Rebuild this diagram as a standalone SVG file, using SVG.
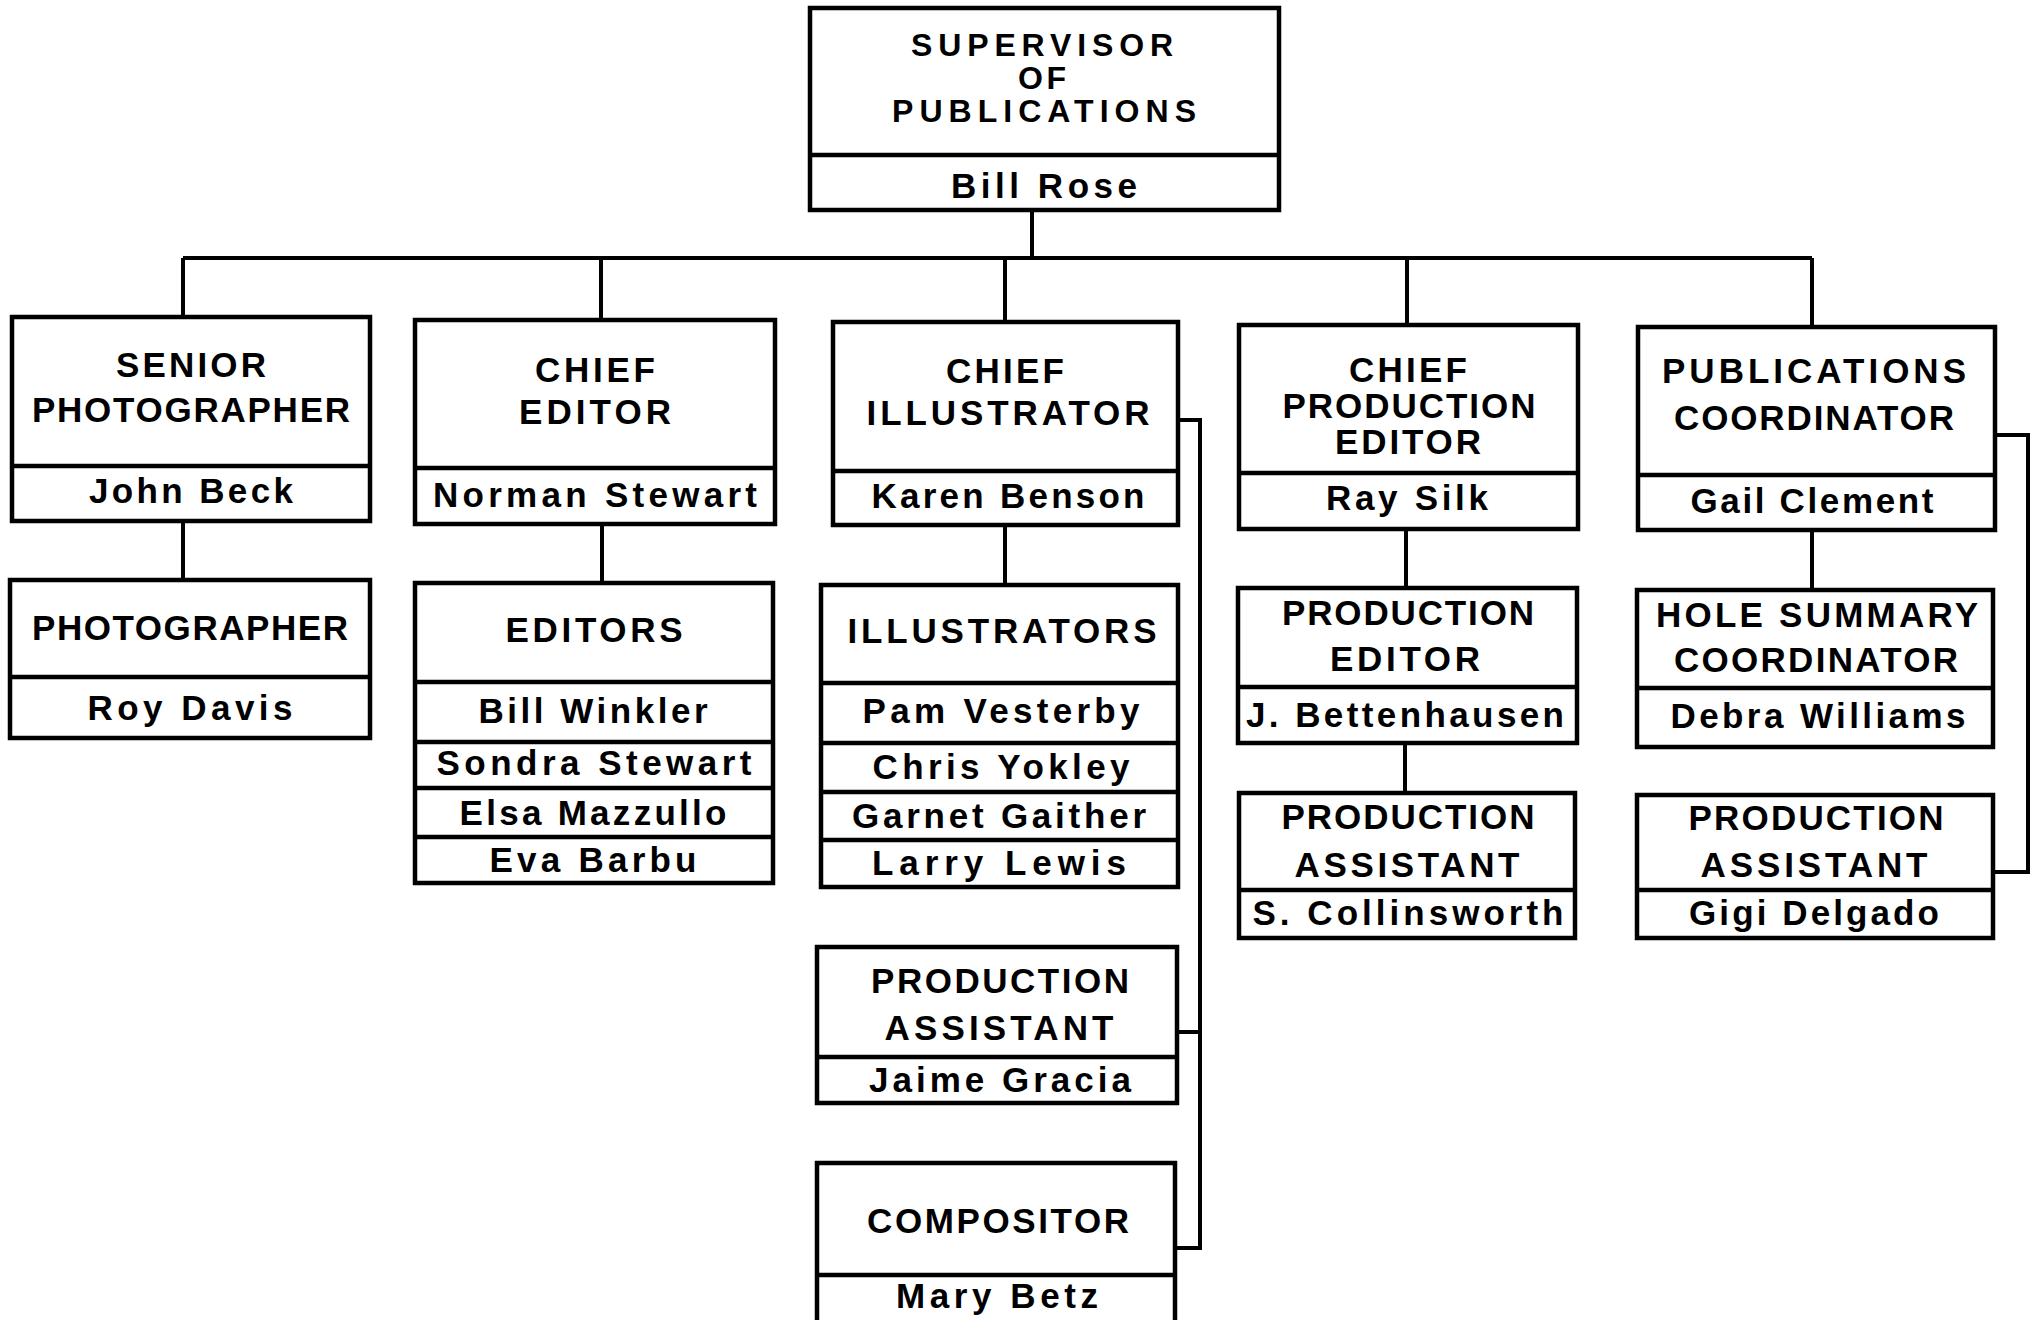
<svg xmlns="http://www.w3.org/2000/svg" width="2036" height="1320" viewBox="0 0 2036 1320">
<style>
.bg{fill:#fff}
.box{fill:#fff;stroke:#000;stroke-width:4.5}
.dv{stroke:#000;stroke-width:4.5;fill:none}
.cn{stroke:#000;stroke-width:4;fill:none}
.t{font-family:"Liberation Sans",Arial,Helvetica,sans-serif;font-weight:bold;font-size:35px;text-anchor:middle;fill:#000}
.s{font-size:32px}
</style>
<rect class="bg" x="0" y="0" width="2036" height="1320"/>
<g id="connectors">
<path class="cn" d="M1032 210 V258"/>
<path class="cn" d="M183 258 H1812"/>
<path class="cn" d="M183 258 V317"/>
<path class="cn" d="M601 258 V320"/>
<path class="cn" d="M1005 258 V322"/>
<path class="cn" d="M1407 258 V325"/>
<path class="cn" d="M1812 258 V327"/>
<path class="cn" d="M183 521 V580"/>
<path class="cn" d="M602 524 V583"/>
<path class="cn" d="M1005 525 V585"/>
<path class="cn" d="M1178 420 H1200 V1248 H1175"/>
<path class="cn" d="M1177 1032 H1200"/>
<path class="cn" d="M1406 529 V588"/>
<path class="cn" d="M1405 743 V793"/>
<path class="cn" d="M1812 530 V590"/>
<path class="cn" d="M1995 435 H2028 V872 H1993"/>
</g>
<g id="supervisor">
<rect class="box" x="810" y="8" width="469" height="202"/>
<path class="dv" d="M810 155 H1279"/>
<text class="t s" x="1042" y="56" textLength="262" lengthAdjust="spacing">SUPERVISOR</text>
<text class="t s" x="1042" y="89" textLength="48" lengthAdjust="spacing">OF</text>
<text class="t s" x="1044" y="122" textLength="304" lengthAdjust="spacing">PUBLICATIONS</text>
<text class="t" x="1044" y="198" textLength="186" lengthAdjust="spacing">Bill Rose</text>
</g>
<g id="senior-photographer">
<rect class="box" x="12" y="317" width="358" height="204"/>
<path class="dv" d="M12 466 H370"/>
<text class="t" x="191" y="377" textLength="150" lengthAdjust="spacing">SENIOR</text>
<text class="t" x="191" y="422" textLength="318" lengthAdjust="spacing">PHOTOGRAPHER</text>
<text class="t" x="191" y="503" textLength="204" lengthAdjust="spacing">John Beck</text>
</g>
<g id="photographer">
<rect class="box" x="10" y="580" width="360" height="158"/>
<path class="dv" d="M10 677 H370"/>
<text class="t" x="190" y="640" textLength="316" lengthAdjust="spacing">PHOTOGRAPHER</text>
<text class="t" x="190" y="720" textLength="205" lengthAdjust="spacing">Roy Davis</text>
</g>
<g id="chief-editor">
<rect class="box" x="415" y="320" width="360" height="204"/>
<path class="dv" d="M415 468 H775"/>
<text class="t" x="595" y="382" textLength="120" lengthAdjust="spacing">CHIEF</text>
<text class="t" x="595" y="424" textLength="152" lengthAdjust="spacing">EDITOR</text>
<text class="t" x="595" y="507" textLength="324" lengthAdjust="spacing">Norman Stewart</text>
</g>
<g id="editors">
<rect class="box" x="415" y="583" width="358" height="300"/>
<path class="dv" d="M415 682 H773 M415 742 H773 M415 788 H773 M415 837 H773"/>
<text class="t" x="594" y="642" textLength="177" lengthAdjust="spacing">EDITORS</text>
<text class="t" x="593" y="723" textLength="229" lengthAdjust="spacing">Bill Winkler</text>
<text class="t" x="594" y="775" textLength="315" lengthAdjust="spacing">Sondra Stewart</text>
<text class="t" x="593" y="825" textLength="267" lengthAdjust="spacing">Elsa Mazzullo</text>
<text class="t" x="593" y="872" textLength="207" lengthAdjust="spacing">Eva Barbu</text>
</g>
<g id="chief-illustrator">
<rect class="box" x="833" y="322" width="345" height="203"/>
<path class="dv" d="M833 471 H1178"/>
<text class="t" x="1005" y="383" textLength="118" lengthAdjust="spacing">CHIEF</text>
<text class="t" x="1008" y="425" textLength="283" lengthAdjust="spacing">ILLUSTRATOR</text>
<text class="t" x="1008" y="508" textLength="273" lengthAdjust="spacing">Karen Benson</text>
</g>
<g id="illustrators">
<rect class="box" x="821" y="585" width="357" height="302"/>
<path class="dv" d="M821 683 H1178 M821 743 H1178 M821 792 H1178 M821 840 H1178"/>
<text class="t" x="1002" y="643" textLength="309" lengthAdjust="spacing">ILLUSTRATORS</text>
<text class="t" x="1001" y="723" textLength="277" lengthAdjust="spacing">Pam Vesterby</text>
<text class="t" x="1001" y="779" textLength="257" lengthAdjust="spacing">Chris Yokley</text>
<text class="t" x="999" y="828" textLength="294" lengthAdjust="spacing">Garnet Gaither</text>
<text class="t" x="999" y="875" textLength="254" lengthAdjust="spacing">Larry Lewis</text>
</g>
<g id="illustration-production-assistant">
<rect class="box" x="817" y="947" width="360" height="156"/>
<path class="dv" d="M817 1057 H1177"/>
<text class="t" x="1000" y="993" textLength="258" lengthAdjust="spacing">PRODUCTION</text>
<text class="t" x="999" y="1040" textLength="229" lengthAdjust="spacing">ASSISTANT</text>
<text class="t" x="1000" y="1092" textLength="262" lengthAdjust="spacing">Jaime Gracia</text>
</g>
<g id="compositor">
<rect class="box" x="817" y="1163" width="358" height="180"/>
<path class="dv" d="M817 1275 H1175"/>
<text class="t" x="998" y="1233" textLength="262" lengthAdjust="spacing">COMPOSITOR</text>
<text class="t" x="997" y="1308" textLength="202" lengthAdjust="spacing">Mary Betz</text>
</g>
<g id="chief-production-editor">
<rect class="box" x="1239" y="325" width="339" height="204"/>
<path class="dv" d="M1239 473 H1578"/>
<text class="t" x="1408" y="382" textLength="118" lengthAdjust="spacing">CHIEF</text>
<text class="t" x="1409" y="418" textLength="253" lengthAdjust="spacing">PRODUCTION</text>
<text class="t" x="1408" y="454" textLength="146" lengthAdjust="spacing">EDITOR</text>
<text class="t" x="1407" y="510" textLength="162" lengthAdjust="spacing">Ray Silk</text>
</g>
<g id="production-editor">
<rect class="box" x="1238" y="588" width="339" height="155"/>
<path class="dv" d="M1238 687 H1577"/>
<text class="t" x="1408" y="625" textLength="252" lengthAdjust="spacing">PRODUCTION</text>
<text class="t" x="1405" y="671" textLength="150" lengthAdjust="spacing">EDITOR</text>
<text class="t" x="1405" y="727" textLength="318" lengthAdjust="spacing">J. Bettenhausen</text>
</g>
<g id="production-assistant">
<rect class="box" x="1239" y="793" width="336" height="145"/>
<path class="dv" d="M1239 890 H1575"/>
<text class="t" x="1408" y="829" textLength="253" lengthAdjust="spacing">PRODUCTION</text>
<text class="t" x="1407" y="877" textLength="225" lengthAdjust="spacing">ASSISTANT</text>
<text class="t" x="1408" y="925" textLength="311" lengthAdjust="spacing">S. Collinsworth</text>
</g>
<g id="publications-coordinator">
<rect class="box" x="1638" y="327" width="357" height="203"/>
<path class="dv" d="M1638 475 H1995"/>
<text class="t" x="1814" y="383" textLength="304" lengthAdjust="spacing">PUBLICATIONS</text>
<text class="t" x="1814" y="430" textLength="280" lengthAdjust="spacing">COORDINATOR</text>
<text class="t" x="1812" y="513" textLength="243" lengthAdjust="spacing">Gail Clement</text>
</g>
<g id="hole-summary-coordinator">
<rect class="box" x="1637" y="590" width="356" height="157"/>
<path class="dv" d="M1637 688 H1993"/>
<text class="t" x="1817" y="627" textLength="322" lengthAdjust="spacing">HOLE SUMMARY</text>
<text class="t" x="1816" y="672" textLength="284" lengthAdjust="spacing">COORDINATOR</text>
<text class="t" x="1818" y="728" textLength="295" lengthAdjust="spacing">Debra Williams</text>
</g>
<g id="coordination-production-assistant">
<rect class="box" x="1637" y="795" width="356" height="143"/>
<path class="dv" d="M1637 890 H1993"/>
<text class="t" x="1816" y="830" textLength="255" lengthAdjust="spacing">PRODUCTION</text>
<text class="t" x="1814" y="877" textLength="227" lengthAdjust="spacing">ASSISTANT</text>
<text class="t" x="1814" y="925" textLength="250" lengthAdjust="spacing">Gigi Delgado</text>
</g>
</svg>
